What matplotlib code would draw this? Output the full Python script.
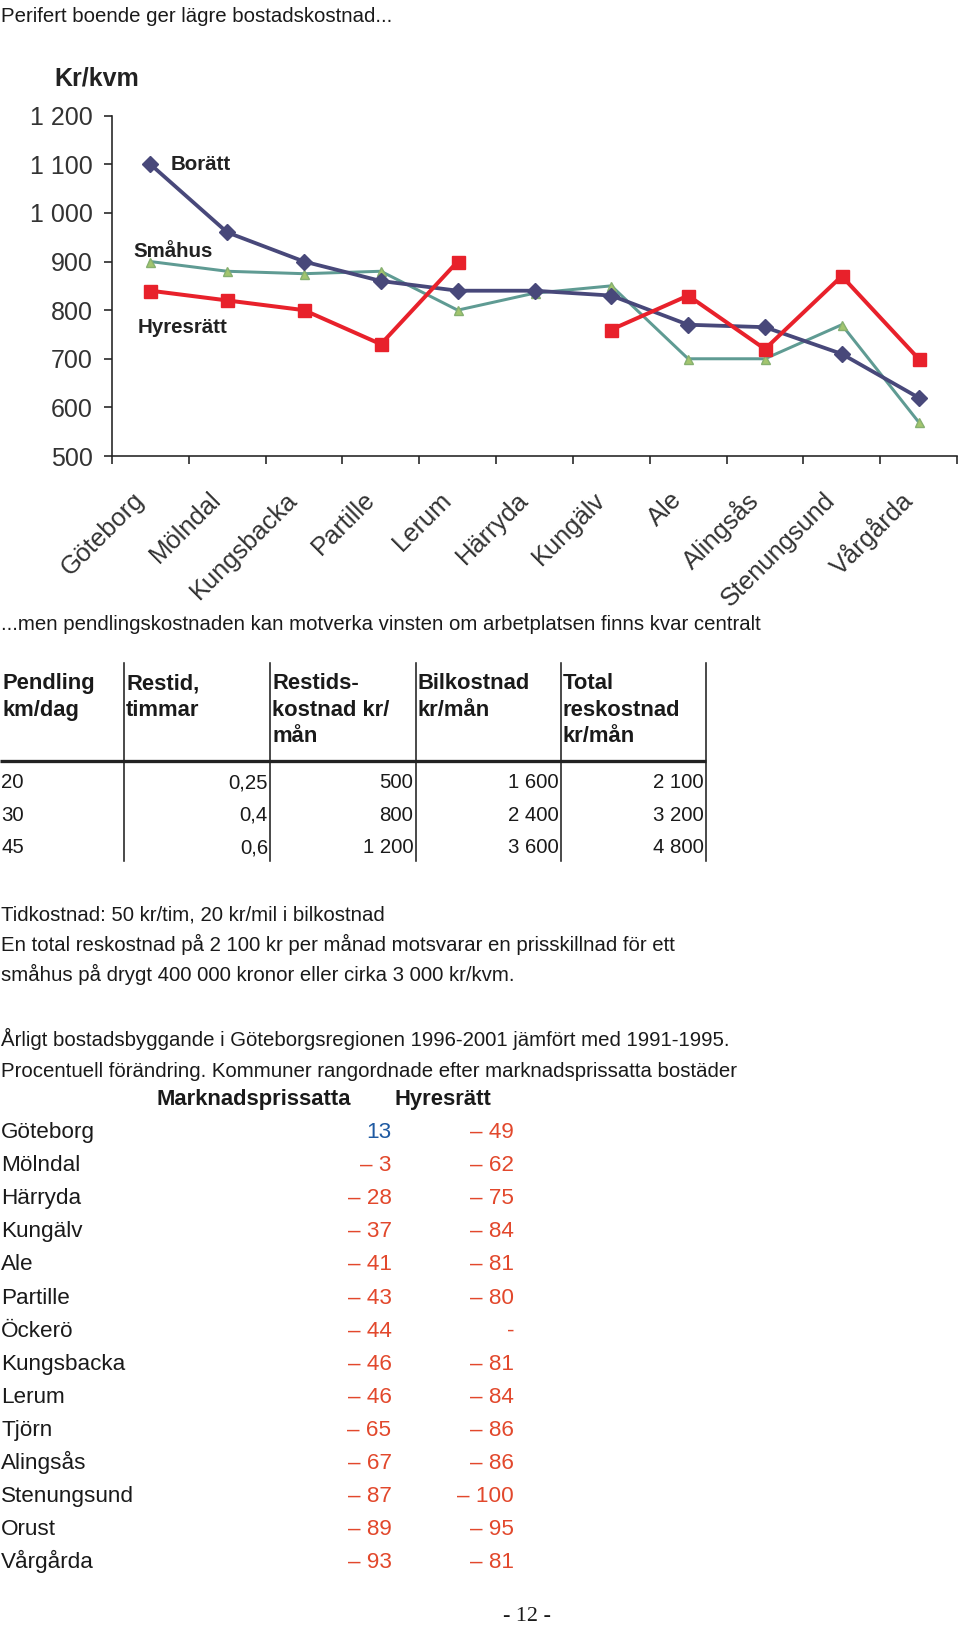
import numpy as np
import matplotlib
matplotlib.use("Agg")
from matplotlib import pyplot as plt
from matplotlib import font_manager as fm
from matplotlib.transforms import ScaledTranslation, blended_transform_factory

# --- chart data (kr/kvm) ---
kommuner = ["Göteborg", "Mölndal", "Kungsbacka", "Partille", "Lerum", "Härryda",
            "Kungälv", "Ale", "Alingsås", "Stenungsund", "Vårgårda"]
boratt = [1100, 960, 900, 860, 840, 840, 830, 770, 765, 710, 620]
smahus = [900, 880, 875, 880, 800, 835, 850, 700, 700, 770, 570]
hyresratt = [840, 820, 800, 730, 900, np.nan, 760, 830, 720, 870, 700]
y_ticks = [500, 600, 700, 800, 900, 1000, 1100, 1200]

# --- commuting table ---
pend_headers = ["Pendling\nkm/dag", "Restid,\ntimmar", "Restids-\nkostnad kr/\nmån",
                "Bilkostnad\nkr/mån", "Total\nreskostnad\nkr/mån"]
pendling_km = ["20", "30", "45"]
restid = ["0,25", "0,4", "0,6"]
restidskostnad = ["500", "800", "1 200"]
bilkostnad = ["1 600", "2 400", "3 600"]
total_kostnad = ["2 100", "3 200", "4 800"]

# --- housing construction change (%) ---
bygg_kommuner = ["Göteborg", "Mölndal", "Härryda", "Kungälv", "Ale", "Partille", "Öckerö",
                 "Kungsbacka", "Lerum", "Tjörn", "Alingsås", "Stenungsund", "Orust", "Vårgårda"]
marknadsprissatta = [13, -3, -28, -37, -41, -43, -44, -46, -46, -65, -67, -87, -89, -93]
hyresratt_andring = [-49, -62, -75, -84, -81, -80, None, -81, -84, -86, -86, -100, -95, -81]

W, H, DPI = 960, 1626, 100


def pt(px):
    return px * 72 / DPI


names = {f.name for f in fm.fontManager.ttflist}
SANS = "Liberation Sans" if "Liberation Sans" in names else "DejaVu Sans"
# the page text is set in a narrow grotesque; without a narrow font installed,
# shrink the regular one so the line widths still match
if "Liberation Sans Narrow" in names:
    NARROW, NSCALE = "Liberation Sans Narrow", 1.0
else:
    NARROW, NSCALE = SANS, 0.815
plt.rcParams["font.family"] = SANS


def npx(px):
    return pt(px * NSCALE)


fig = plt.figure(figsize=(W / DPI, H / DPI), dpi=DPI)
fig.patch.set_facecolor("white")

# page axes in pixel coordinates for text and table rules
page = fig.add_axes([0, 0, 1, 1])
page.set_xlim(0, W)
page.set_ylim(H, 0)
page.axis("off")

TXT = "#1a1a1a"
page.text(1, 22, "Perifert boende ger lägre bostadskostnad...", family=NARROW,
          fontsize=npx(25), color=TXT, va="baseline")

# --- line chart ---
ax = fig.add_axes([112 / W, 1 - 456 / H, (957 - 112) / W, (456 - 115.7) / H])
x = np.arange(len(kommuner))
ax.plot(x, boratt, color="#48487a", lw=pt(3.8), marker="D", ms=pt(11.5), zorder=3)
ax.plot(x, smahus, color="#5f9b93", lw=pt(3.0), marker="^", ms=pt(9),
        mfc="#a3c56e", mec="#86b070", zorder=2)
ax.plot(x, hyresratt, color="#e8212b", lw=pt(4.0), marker="s", ms=pt(13), zorder=4)
ax.set_xlim(-0.5, len(kommuner) - 0.5)
ax.set_ylim(y_ticks[0], y_ticks[-1])
ax.set_xticks(np.arange(-0.5, len(kommuner), 1))
ax.set_xticklabels([])
ax.set_yticks(y_ticks)
ax.set_yticklabels([f"{v:,}".replace(",", " ") for v in y_ticks])
for side in ("top", "right"):
    ax.spines[side].set_visible(False)
for side in ("left", "bottom"):
    ax.spines[side].set_linewidth(pt(1.6))
    ax.spines[side].set_color("#222222")
ax.tick_params(axis="both", direction="out", length=pt(8), width=pt(1.6), color="#222222")
ax.tick_params(axis="y", pad=pt(11), labelsize=pt(25), labelcolor="#333333")
ax.set_facecolor("none")

lab_tr = blended_transform_factory(ax.transData, ax.transAxes) + \
    ScaledTranslation(-10 / DPI, -40 / DPI, fig.dpi_scale_trans)
for i, name in enumerate(kommuner):
    ax.text(i, 0, name, transform=lab_tr, rotation=45, rotation_mode="anchor",
            ha="right", va="center", fontsize=pt(25.5), color="#333333", clip_on=False)

ax.text(0.26, 1100, "Borätt", fontsize=pt(20.5), fontweight="bold", color="#222222", va="center")
ax.text(-0.22, 921, "Småhus", fontsize=pt(20.5), fontweight="bold", color="#222222", va="center")
ax.text(-0.17, 765, "Hyresrätt", fontsize=pt(20.5), fontweight="bold", color="#222222", va="center")
page.text(54, 85, "Kr/kvm", fontsize=pt(25), fontweight="bold", color="#222222", va="baseline")

# --- commuting table ---
page.text(1, 630, "...men pendlingskostnaden kan motverka vinsten om arbetplatsen finns kvar centralt",
          family=NARROW, fontsize=npx(25), color=TXT, va="baseline")
col_lines = [124, 270, 415.5, 561, 706]
col_left = [0] + col_lines[:-1]
for xl in col_lines:
    page.plot([xl, xl], [663, 861], color="#222222", lw=pt(1.6))
page.plot([0, col_lines[-1]], [761.5, 761.5], color="#222222", lw=pt(3.3), solid_capstyle="butt")
for j, head in enumerate(pend_headers):
    for k, line in enumerate(head.split("\n")):
        page.text(col_left[j] + 2, 689 + 26.5 * k, line, fontsize=pt(22), fontweight="bold",
                  color=TXT, va="baseline")
columns = [pendling_km, restid, restidskostnad, bilkostnad, total_kostnad]
for r in range(len(pendling_km)):
    yb = 788 + 32.5 * r
    for j, col in enumerate(columns):
        if j == 0:
            page.text(1, yb, col[r], family=NARROW, fontsize=npx(25), color=TXT, va="baseline")
        else:
            page.text(col_lines[j] - 2, yb, col[r], family=NARROW, fontsize=npx(25),
                      color=TXT, va="baseline", ha="right")

notes = ["Tidkostnad: 50 kr/tim, 20 kr/mil i bilkostnad",
         "En total reskostnad på 2 100 kr per månad motsvarar en prisskillnad för ett",
         "småhus på drygt 400 000 kronor eller cirka 3 000 kr/kvm."]
for k, line in enumerate(notes):
    page.text(1, 920 + 30.5 * k, line, family=NARROW, fontsize=npx(25), color=TXT, va="baseline")

# --- construction table ---
page.text(1, 1046, "Årligt bostadsbyggande i Göteborgsregionen 1996-2001 jämfört med 1991-1995.",
          family=NARROW, fontsize=npx(25), color=TXT, va="baseline")
page.text(1, 1077, "Procentuell förändring. Kommuner rangordnade efter marknadsprissatta bostäder",
          family=NARROW, fontsize=npx(25), color=TXT, va="baseline")
page.text(156, 1104.5, "Marknadsprissatta", fontsize=pt(22), fontweight="bold", color=TXT, va="baseline")
page.text(394, 1104.5, "Hyresrätt", fontsize=pt(22), fontweight="bold", color=TXT, va="baseline")

RED, BLUE = "#e2482c", "#1f5aa2"


def fmt(v):
    if v is None:
        return "-", RED
    if v < 0:
        return f"– {abs(v)}", RED
    return str(v), BLUE


for r, name in enumerate(bygg_kommuner):
    yb = 1138 + 33.1 * r
    page.text(1, yb, name, fontsize=pt(22.5), color=TXT, va="baseline")
    s, c = fmt(marknadsprissatta[r])
    page.text(391.5, yb, s, fontsize=pt(22.5), color=c, va="baseline", ha="right")
    s, c = fmt(hyresratt_andring[r])
    page.text(514, yb, s, fontsize=pt(22.5), color=c, va="baseline", ha="right")

page.text(527, 1621, "- 12 -", family=["Liberation Serif", "DejaVu Serif"], fontsize=pt(22),
          color=TXT, va="baseline", ha="center")

fig.savefig("out.png", dpi=DPI, facecolor="white")
